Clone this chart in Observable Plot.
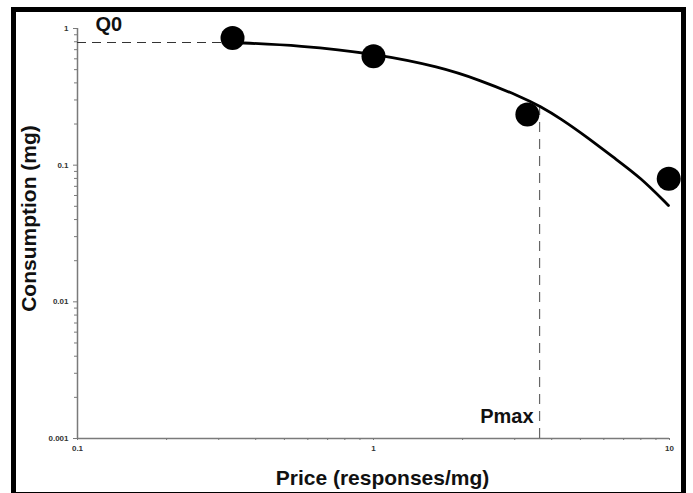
<!DOCTYPE html>
<html>
<head>
<meta charset="utf-8">
<script src="https://cdn.jsdelivr.net/npm/d3@7"></script>
<script src="https://cdn.jsdelivr.net/npm/@observablehq/plot@0.6"></script>
<style>
  html, body { margin: 0; padding: 0; background: #fff; overflow: hidden; }
  #wrap { position: relative; width: 693px; height: 493px; }
  #frame { position: absolute; left: 11px; top: 7px; width: 675px; height: 490px;
           box-sizing: border-box; border: 5px solid #000; pointer-events: none; }
  #chart { position: absolute; left: 0; top: 0; }
</style>
</head>
<body>
<div id="wrap"><div id="chart"></div><div id="frame"></div></div>
<script>
// Observed data points (price, consumption)
const prices = [0.334, 1.0, 3.31, 9.94];
const consumption = [0.852, 0.627, 0.235, 0.0795];

// Fitted demand curve
const curvePrice = [0.334, 0.567, 1.0, 1.684, 2.298, 3.137, 3.666, 4.283, 5.284, 6.47, 7.98, 9.92];
const curveConsumption = [0.790, 0.751, 0.656, 0.523, 0.417, 0.318, 0.269, 0.2196, 0.1594, 0.1138, 0.0813, 0.0507];

// Annotations
const Q0 = 0.79;
const Pmax = 3.64;
const pmaxTop = 0.28;

// Axis ticks
const xTicks = [0.1, 1, 10];
const xTickLabels = ["0.1", "1", "10"];
const yTicks = [1, 0.1, 0.01, 0.001];
const yTickLabels = ["1", "0.1", "0.01", "0.001"];
const xMinor = [0.1, 1].flatMap(d => [2,3,4,5,6,7,8,9].map(k => +(d * k).toPrecision(3)));
const yMinor = [0.001, 0.01, 0.1].flatMap(d => [2,3,4,5,6,7,8,9].map(k => +(d * k).toPrecision(3)));

const xTitle = "Price (responses/mg)";
const yTitle = "Consumption (mg)";

const points = prices.map((p, i) => ({price: p, cons: consumption[i]}));
const curve = curvePrice.map((p, i) => ({price: p, cons: curveConsumption[i]}));

const font = "'Liberation Sans', Arial, sans-serif";
const axisColor = "#7a7a7a";
const tickText = "#333";

const chart = Plot.plot({
  width: 693,
  height: 493,
  marginLeft: 77,
  marginRight: 24,
  marginTop: 28,
  marginBottom: 55,
  style: {fontFamily: font, background: "transparent", overflow: "visible"},
  x: {type: "log", domain: [0.1, 10]},
  y: {type: "log", domain: [0.001, 1]},
  marks: [
    // axis lines
    Plot.ruleX([0.1], {stroke: axisColor, strokeWidth: 1.5}),
    Plot.ruleY([0.001], {stroke: axisColor, strokeWidth: 1.5}),
    // y axis
    Plot.axisY({ticks: yTicks, tickFormat: d => yTickLabels[yTicks.indexOf(d)], tickSize: 4, tickPadding: 5,
      fontSize: 8, fontWeight: "bold", fill: tickText, stroke: axisColor, label: null}),
    Plot.axisY({ticks: yMinor, tickFormat: () => "", tickSize: 3, stroke: axisColor, label: null}),
    // x axis
    Plot.axisX({ticks: xTicks, tickFormat: d => xTickLabels[xTicks.indexOf(d)], tickSize: 2, tickPadding: 5,
      fontSize: 8, fontWeight: "bold", fill: tickText, stroke: axisColor, label: null}),
    Plot.axisX({ticks: xMinor, tickFormat: () => "", tickSize: 2, stroke: axisColor, label: null}),
    // axis titles
    Plot.text([xTitle], {text: d => d, frameAnchor: "bottom", textAnchor: "middle", dx: 9, dy: 46,
      fontSize: 21, fontWeight: "bold", fill: "#111"}),
    Plot.text([yTitle], {text: d => d, frameAnchor: "left", textAnchor: "middle", dx: -48, dy: -15, rotate: -90,
      fontSize: 21, fontWeight: "bold", fill: "#111"}),
    // Q0 dashed line and label
    Plot.ruleY([{y: Q0, x1: 0.1, x2: prices[0]}], {y: "y", x1: "x1", x2: "x2", stroke: "#333", strokeWidth: 1.2, strokeDasharray: "9,6"}),
    Plot.text([{x: 0.1, y: Q0}], {x: "x", y: "y", text: () => "Q0", textAnchor: "start", dx: 18, dy: -18,
      fontSize: 20, fontWeight: "bold", fill: "#111"}),
    // Pmax dashed line and label
    Plot.ruleX([{x: Pmax, y1: 0.001, y2: pmaxTop}], {x: "x", y1: "y1", y2: "y2", stroke: "#666", strokeWidth: 1.2, strokeDasharray: "10,7"}),
    Plot.text([{x: Pmax, y: 0.001}], {x: "x", y: "y", text: () => "Pmax", textAnchor: "end", dx: -6, dy: -22,
      fontSize: 20, fontWeight: "bold", fill: "#111"}),
    // fitted curve
    Plot.line(curve, {x: "price", y: "cons", stroke: "#000", strokeWidth: 2.8, curve: "basis"}),
    // data points
    Plot.dot(points, {x: "price", y: "cons", r: 12, fill: "#000", stroke: "none"})
  ]
});
document.getElementById("chart").appendChild(chart);
</script>
</body>
</html>
